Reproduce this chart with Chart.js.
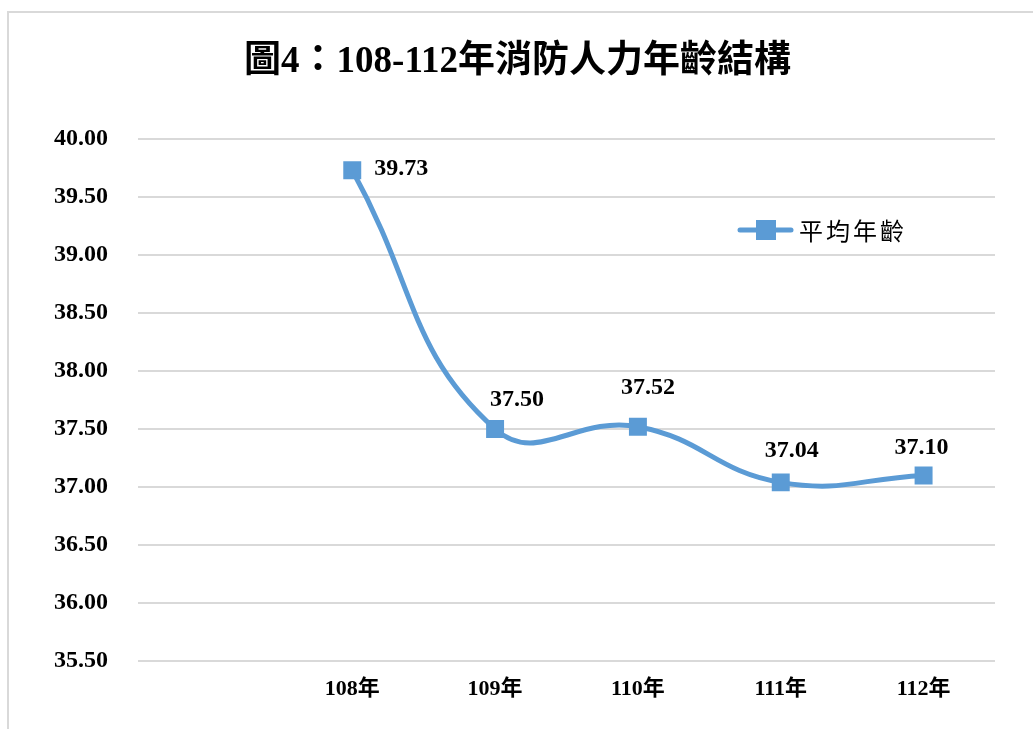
<!DOCTYPE html>
<html>
<head>
<meta charset="utf-8">
<script src="https://cdn.jsdelivr.net/npm/chart.js@4/dist/chart.umd.min.js"></script>
<style>
  html, body { margin: 0; padding: 0; background: #fff; }
  #wrap { position: relative; width: 1033px; height: 729px; overflow: hidden; }
  #frame { position: absolute; left: 7px; top: 11px; width: 1040px; height: 740px;
           border-left: 2px solid #d9d9d9; border-top: 2px solid #d9d9d9; }
  #c { position: absolute; left: 0; top: 0; }
</style>
</head>
<body>
<div id="wrap">
  <div id="frame"></div>
  <canvas id="c" width="1033" height="729"></canvas>
</div>
<script>
// ---- data ----
const titleText = "圖4：108-112年消防人力年齡結構";
const categories = ["", "108年", "109年", "110年", "111年", "112年"];
const seriesName = "平均年齡";
const avgAge = [null, 39.73, 37.50, 37.52, 37.04, 37.10];
const yMin = 35.5;
const yMax = 40.0;
const yStep = 0.5;

// ---- styles ----
const blue = "#5b9bd5";
const serif = "'Liberation Serif', 'Noto Sans CJK TC', serif";
const labelOffsets = [null, [49, -2], [22, -29], [10, -39], [11, -32], [-2, -28]];

const dataLabelPlugin = {
  id: "dataLabels",
  afterDatasetsDraw(chart) {
    const ctx = chart.ctx;
    const meta = chart.getDatasetMeta(0);
    const ds = chart.data.datasets[0];
    ctx.save();
    ctx.font = "bold 24px " + serif;
    ctx.fillStyle = "#000";
    ctx.textAlign = "center";
    ctx.textBaseline = "middle";
    meta.data.forEach((pt, i) => {
      const v = ds.data[i];
      if (v === null || v === undefined) return;
      const off = labelOffsets[i] || [0, -30];
      ctx.fillText(v.toFixed(2), pt.x + off[0], pt.y + off[1]);
    });
    ctx.restore();
  }
};

const legendPlugin = {
  id: "insideLegend",
  afterDraw(chart) {
    const ctx = chart.ctx;
    const ds = chart.data.datasets[0];
    const y = 230;
    ctx.save();
    ctx.strokeStyle = ds.borderColor;
    ctx.lineWidth = 5;
    ctx.lineCap = "round";
    ctx.beginPath();
    ctx.moveTo(740, y);
    ctx.lineTo(791, y);
    ctx.stroke();
    ctx.fillStyle = ds.pointBackgroundColor;
    ctx.fillRect(756, y - 10, 20, 20);
    ctx.fillStyle = "#000";
    ctx.font = "24px 'Noto Sans CJK TC', serif";
    ctx.textAlign = "left";
    ctx.textBaseline = "middle";
    if ("letterSpacing" in ctx) ctx.letterSpacing = "3px";
    ctx.fillText(ds.label, 799, y + 1);
    ctx.restore();
  }
};

new Chart(document.getElementById("c"), {
  type: "line",
  data: {
    labels: categories,
    datasets: [{
      label: seriesName,
      data: avgAge,
      borderColor: blue,
      backgroundColor: blue,
      borderWidth: 5,
      borderCapStyle: "round",
      tension: 0.45,
      pointStyle: "rect",
      pointRadius: 12.7,
      pointHoverRadius: 12.7,
      pointBorderWidth: 0,
      pointBackgroundColor: blue,
      fill: false
    }]
  },
  options: {
    responsive: false,
    animation: false,
    devicePixelRatio: 1,
    layout: { padding: { left: 40, right: 38, top: 0, bottom: 0 } },
    plugins: {
      legend: { display: false },
      tooltip: { enabled: false },
      title: {
        display: true,
        text: titleText,
        color: "#000",
        font: { family: serif, size: 37, weight: "bold", lineHeight: 1.2 },
        padding: { top: 40, bottom: 54.6 }
      }
    },
    scales: {
      x: {
        offset: true,
        grid: { display: false, drawTicks: false },
        border: { display: false },
        ticks: {
          color: "#000",
          padding: 15,
          font: { family: serif, size: 22, weight: "bold" },
          maxRotation: 0,
          autoSkip: false
        },
        afterFit(scale) { scale.height = 68; }
      },
      y: {
        min: yMin,
        max: yMax,
        ticks: {
          stepSize: yStep,
          color: "#000",
          padding: 30,
          font: { family: serif, size: 24, weight: "bold" },
          callback: (v) => Number(v).toFixed(2)
        },
        grid: { color: "#d9d9d9", lineWidth: 2, drawTicks: false },
        border: { display: false },
        afterFit(scale) { scale.width = 98; }
      }
    }
  },
  plugins: [dataLabelPlugin, legendPlugin]
});
</script>
</body>
</html>
